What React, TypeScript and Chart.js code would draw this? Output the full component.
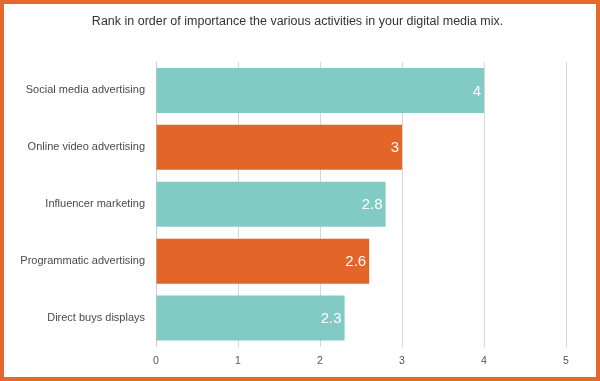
import React, { useEffect, useRef } from "react";
import { Chart, registerables } from "chart.js";

Chart.register(...registerables);

const titleText = "Rank in order of importance the various activities in your digital media mix.";
const categories = [
  "Social media advertising",
  "Online video advertising",
  "Influencer marketing",
  "Programmatic advertising",
  "Direct buys displays",
];
const values = [4, 3, 2.8, 2.6, 2.3];
const barColors = ["#81CBC4", "#E3652A", "#81CBC4", "#E3652A", "#81CBC4"];
const xTicks = [0, 1, 2, 3, 4, 5];

const FONT = "'Liberation Sans', Arial, sans-serif";

const valueLabels = {
  id: "valueLabels",
  afterDatasetsDraw(chart: any) {
    const ctx = chart.ctx;
    const meta = chart.getDatasetMeta(0);
    ctx.save();
    ctx.fillStyle = "#ffffff";
    ctx.font = `15px ${FONT}`;
    ctx.textAlign = "right";
    ctx.textBaseline = "middle";
    meta.data.forEach((bar: any, i: number) => {
      ctx.fillText(String(values[i]), bar.x - 3, bar.y + 1);
    });
    ctx.restore();
  },
};

const chartTitle = {
  id: "chartTitle",
  afterDraw(chart: any) {
    const ctx = chart.ctx;
    ctx.save();
    ctx.fillStyle = "#333333";
    ctx.font = `12.5px ${FONT}`;
    ctx.textAlign = "center";
    ctx.textBaseline = "middle";
    ctx.fillText(titleText, 293.5, 18);
    ctx.restore();
  },
};

export default function App() {
  const ref = useRef<HTMLCanvasElement>(null);
  useEffect(() => {
    const chart = new Chart(ref.current!, {
      type: "bar",
      data: {
        labels: categories,
        datasets: [
          {
            data: values,
            backgroundColor: barColors,
            borderWidth: 0,
            categoryPercentage: 1,
            barPercentage: 0.79,
          },
        ],
      },
      options: {
        indexAxis: "y",
        animation: false,
        responsive: false,
        layout: { padding: { top: 58, right: 30, bottom: 0, left: 0 } },
        plugins: {
          legend: { display: false },
          tooltip: { enabled: false },
          title: { display: false },
        },
        scales: {
          x: {
            min: 0,
            max: 5,
            afterFit: (s: any) => {
              s.height = 30.5;
            },
            afterBuildTicks: (s: any) => {
              s.ticks = xTicks.map((v) => ({ value: v }));
            },
            grid: { color: "#d6d6d6", drawTicks: false, lineWidth: 1 },
            border: { display: false },
            ticks: {
              padding: 8,
              color: "#555555",
              font: { family: FONT, size: 10.5 },
            },
          },
          y: {
            afterFit: (s: any) => {
              s.width = 152;
            },
            grid: { display: false, drawTicks: false },
            border: { display: true, color: "#cccccc" },
            ticks: {
              padding: 11,
              color: "#4a4a4a",
              font: { family: FONT, size: 11 },
            },
          },
        },
      },
      plugins: [valueLabels, chartTitle],
    });
    return () => chart.destroy();
  }, []);
  return (
    <div
      style={{
        position: "fixed",
        top: 0,
        left: 0,
        width: 600,
        height: 381,
        boxSizing: "border-box",
        border: "4px solid #E5682C",
        background: "#ffffff",
      }}
    >
      <canvas ref={ref} width={592} height={373} style={{ display: "block" }} />
    </div>
  );
}
